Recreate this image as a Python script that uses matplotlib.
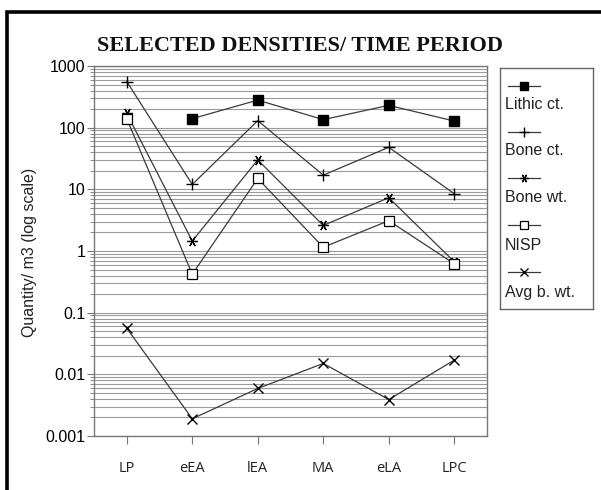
import matplotlib
matplotlib.use("Agg")
import matplotlib.pyplot as plt
from matplotlib.lines import Line2D
from matplotlib.patches import Rectangle
from matplotlib.ticker import LogLocator, NullFormatter, FixedLocator, FixedFormatter

periods = ["LP", "eEA", "lEA", "MA", "eLA", "LPC"]
lithic_ct = [None, 140, 280, 135, 230, 128]
bone_ct = [560, 12, 130, 17, 48, 8.5]
bone_wt = [170, 1.45, 30, 2.6, 7.3, 0.67]
nisp = [140, 0.42, 15, 1.15, 3.1, 0.62]
avg_b_wt = [0.056, 0.0019, 0.0059, 0.015, 0.0039, 0.017]
series_names = ["Lithic ct.", "Bone ct.", "Bone wt.", "NISP", "Avg b. wt."]
y_tick_labels = ["0.001", "0.01", "0.1", "1", "10", "100", "1000"]

W, H = 601, 490
fig = plt.figure(figsize=(W / 100, H / 100), dpi=100)

def px(x0, y0, x1, y1):
    return [x0 / W, 1 - y1 / H, (x1 - x0) / W, (y1 - y0) / H]

# outer frame
fig.patches.append(Rectangle((7 / W, -0.1), 1.2, 1 - 12 / H + 0.1, transform=fig.transFigure,
                             fill=False, edgecolor="black", linewidth=2.6))

ax = fig.add_axes(px(94, 66, 487, 436))
line_col = "#3a3a3a"
styles = [
    dict(marker="s", markersize=6.5, markerfacecolor="black", markeredgecolor="black"),
    dict(marker="+", markersize=8.5, markeredgewidth=1.0, markeredgecolor="black"),
    dict(marker=(6, 2, 90), markersize=7.5, markeredgewidth=0.9, markeredgecolor="black"),
    dict(marker="s", markersize=6.5, markerfacecolor="white", markeredgecolor="black", markeredgewidth=0.9),
    dict(marker="x", markersize=7, markeredgewidth=1.0, markeredgecolor="black"),
]
data = [lithic_ct, bone_ct, bone_wt, nisp, avg_b_wt]
xs = list(range(len(periods)))
for vals, st in zip(data, styles):
    px_, py_ = [], []
    for x, v in zip(xs, vals):
        if v is not None:
            px_.append(x)
            py_.append(v)
    ax.plot(px_, py_, color=line_col, linewidth=0.9, zorder=3, **st)

ax.set_yscale("log")
ax.set_ylim(0.001, 1000)
ax.set_xlim(-0.5, len(periods) - 0.5)

ax.yaxis.set_major_locator(FixedLocator([10.0 ** k for k in range(-3, 4)]))
ax.yaxis.set_major_formatter(FixedFormatter(y_tick_labels))
ax.yaxis.set_minor_locator(LogLocator(base=10, subs=range(2, 10), numticks=20))
ax.yaxis.set_minor_formatter(NullFormatter())
ax.grid(True, which="both", axis="y", color="#9a9a9a", linewidth=0.8)
ax.set_axisbelow(True)

ax.set_xticks(xs)
ax.set_xticklabels(periods, fontfamily="Open Sans", fontsize=10.5, color="#222222")
ax.tick_params(axis="x", direction="out", length=6, width=0.8, color="#777777", pad=12)
ax.tick_params(axis="y", which="major", direction="out", length=5, width=0.8, color="#777777",
               labelsize=11.5, pad=1)
ax.tick_params(axis="y", which="minor", direction="out", length=3, width=0.6, color="#777777")
for lab in ax.get_yticklabels():
    lab.set_fontfamily("Liberation Sans")
for sp in ax.spines.values():
    sp.set_color("#777777")
    sp.set_linewidth(1.0)

fig.text(30 / W, 1 - 252 / H, "Quantity/ m3 (log scale)", rotation=90, ha="center", va="center",
         fontsize=11.5, fontfamily="Liberation Sans", color="#222222")
fig.text(300 / W, 1 - 46 / H, "SELECTED DENSITIES/ TIME PERIOD", ha="center", va="center",
         fontsize=16, fontweight="bold", fontfamily="Liberation Serif", color="#111111")

# legend box
lax = fig.add_axes(px(500, 68, 593, 309))
lax.set_xlim(500, 593)
lax.set_ylim(309, 68)
lax.set_xticks([])
lax.set_yticks([])
for sp in lax.spines.values():
    sp.set_color("#666666")
    sp.set_linewidth(1.0)
line_ys = [86, 132, 178, 225, 272]
text_ys = [105, 151, 198, 245, 292]
for name, st, ly, ty in zip(series_names, styles, line_ys, text_ys):
    lst = dict(st)
    lst["markersize"] = lst["markersize"] * 0.8
    lax.add_line(Line2D([508, 524, 540], [ly, ly, ly], color=line_col, linewidth=0.9,
                        markevery=[1], **lst))
    lax.text(505, ty, name, ha="left", va="center", fontsize=11.5,
             fontfamily="Liberation Sans", color="#222222")

fig.savefig("out.png", dpi=100)
